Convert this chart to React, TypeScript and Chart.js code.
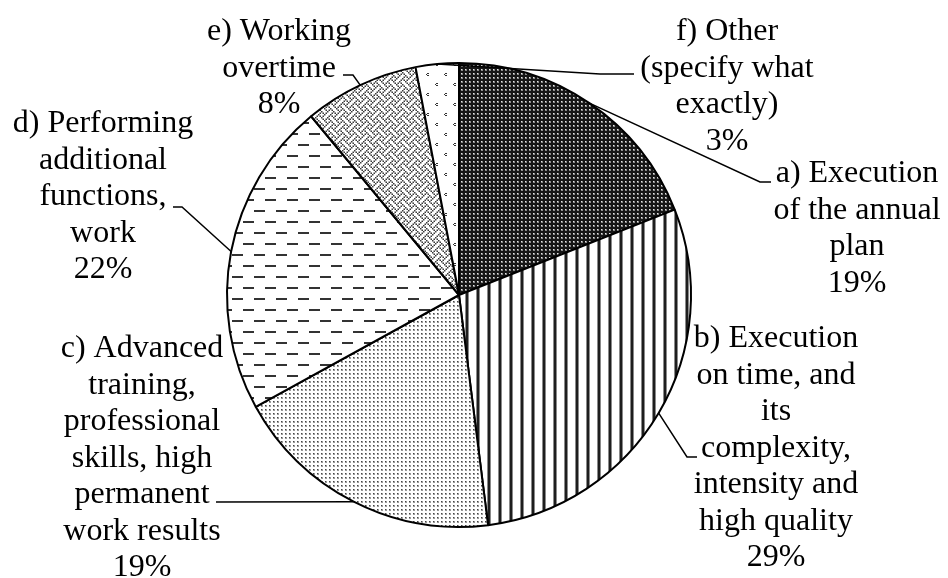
import React, { useEffect, useRef } from "react";
import { Chart, registerables } from "chart.js";

Chart.register(...registerables);

// ---- Data ----
const CATEGORIES: string[] = [
  "a) Execution\nof the annual\nplan",
  "b) Execution\non time, and\nits\ncomplexity,\nintensity and\nhigh quality",
  "c) Advanced\ntraining,\nprofessional\nskills, high\npermanent\nwork results",
  "d) Performing\nadditional\nfunctions,\nwork",
  "e) Working\novertime",
  "f) Other\n(specify what\nexactly)",
];
const VALUES: number[] = [19, 29, 19, 22, 8, 3];
const FILLS: string[] = ["darkDots", "vertical", "lightDots", "dashes", "weave", "sparse"];

// ---- Label layout (text block centre x, first baseline y, leader elbow points from slice edge outward) ----
const LABEL_LAYOUT = [
  { cx: 857, y: 182, path: [[760, 182], [771, 182]] },
  { cx: 776, y: 347, path: [[687, 457], [697, 457]] },
  { cx: 142, y: 357, path: [[216, 502]] },
  { cx: 103, y: 132, path: [[182, 207], [173, 207]] },
  { cx: 279, y: 40, path: [[353, 75], [343, 75]] },
  { cx: 727, y: 40, path: [[600, 74], [634, 74]] },
];
const FONT_SIZE = 32;
const LINE_H = 36.5;
const FONT_FAMILY = "'Liberation Serif', 'Times New Roman', serif";

function makePattern(kind: string): CanvasPattern | string {
  const c = document.createElement("canvas");
  const g = c.getContext("2d")!;
  const bg = (w: number, h: number, col = "#ffffff") => {
    c.width = w;
    c.height = h;
    g.fillStyle = col;
    g.fillRect(0, 0, w, h);
  };
  switch (kind) {
    case "darkDots":
      bg(4, 4, "#161616");
      g.fillStyle = "#8a8a8a";
      g.fillRect(1, 1, 2, 2);
      g.fillStyle = "#e6e6e6";
      g.fillRect(1, 1, 1, 1);
      break;
    case "vertical":
      bg(11, 4);
      g.fillStyle = "#1e1e1e";
      g.fillRect(4, 0, 2, 4);
      g.fillStyle = "#8a8a8a";
      g.fillRect(3, 0, 1, 4);
      g.fillRect(6, 0, 1, 4);
      break;
    case "lightDots":
      bg(4, 4);
      g.fillStyle = "#9a9a9a";
      g.fillRect(1, 1, 2, 2);
      g.fillStyle = "#444444";
      g.fillRect(1, 1, 1, 1);
      break;
    case "dashes":
      bg(22, 22);
      g.fillStyle = "#333333";
      g.fillRect(1, 1, 11, 2);
      g.fillRect(12, 12, 10, 2);
      g.fillRect(0, 12, 1, 2);
      break;
    case "weave": {
      bg(12, 12);
      const bits = [
        "10001000",
        "01010100",
        "00100010",
        "01000101",
        "10001000",
        "00010101",
        "00100010",
        "01010001",
      ];
      g.fillStyle = "#3a3a3a";
      for (let r = 0; r < 8; r++)
        for (let k = 0; k < 8; k++)
          if (bits[r][k] === "1") g.fillRect(k * 1.5, r * 1.5, 1.5, 1.5);
      break;
    }
    case "sparse":
      bg(18, 20);
      g.fillStyle = "#333333";
      const mark = (x: number, y: number) => {
        g.fillRect(x + 1, y, 2, 1);
        g.fillRect(x, y + 1, 1, 1);
        g.fillRect(x + 1, y + 2, 2, 1);
      };
      mark(3, 3);
      mark(12, 13);
      break;
  }
  return g.createPattern(c, "repeat") || "#ffffff";
}

const labelPlugin = {
  id: "pieLabels",
  afterDatasetsDraw(chart: any) {
    const ctx = chart.ctx as CanvasRenderingContext2D;
    const meta = chart.getDatasetMeta(0);
    const total = VALUES.reduce((a, b) => a + b, 0);
    ctx.save();
    meta.data.forEach((arc: any, i: number) => {
      const { x, y, startAngle, endAngle, outerRadius } = arc.getProps(
        ["x", "y", "startAngle", "endAngle", "outerRadius"],
        true
      );
      const mid = (startAngle + endAngle) / 2;
      const ex = x + outerRadius * Math.cos(mid);
      const ey = y + outerRadius * Math.sin(mid);
      const lay = LABEL_LAYOUT[i];
      // leader line
      ctx.strokeStyle = "#000";
      ctx.lineWidth = 1.5;
      ctx.beginPath();
      ctx.moveTo(ex, ey);
      lay.path.forEach((p) => ctx.lineTo(p[0], p[1]));
      ctx.stroke();
      // text
      const lines = CATEGORIES[i].split("\n");
      lines.push(Math.round((VALUES[i] / total) * 100) + "%");
      ctx.fillStyle = "#000";
      ctx.font = `${FONT_SIZE}px ${FONT_FAMILY}`;
      ctx.textAlign = "center";
      ctx.textBaseline = "alphabetic";
      lines.forEach((t, k) => ctx.fillText(t, lay.cx, lay.y + k * LINE_H));
    });
    ctx.restore();
  },
};

export default function App() {
  const ref = useRef<HTMLCanvasElement | null>(null);
  useEffect(() => {
    if (!ref.current) return;
    const chart = new Chart(ref.current, {
      type: "pie",
      data: {
        labels: CATEGORIES,
        datasets: [
          {
            data: VALUES,
            backgroundColor: FILLS.map(makePattern) as any,
            borderColor: "#000000",
            borderWidth: 2,
          },
        ],
      },
      options: {
        responsive: false,
        maintainAspectRatio: false,
        animation: false,
        layout: { padding: { left: 226, top: 62, right: 256, bottom: 50 } },
        plugins: { legend: { display: false }, tooltip: { enabled: false } },
      },
      plugins: [labelPlugin],
    });
    return () => chart.destroy();
  }, []);
  return (
    <div
      style={{
        position: "absolute",
        left: 0,
        top: 0,
        width: 948,
        height: 578,
        background: "#ffffff",
      }}
    >
      <canvas ref={ref} width={948} height={578} style={{ display: "block" }} />
    </div>
  );
}
